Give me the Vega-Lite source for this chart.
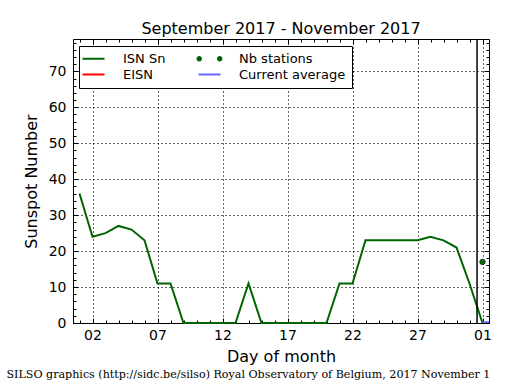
{
  "$schema": "https://vega.github.io/schema/vega-lite/v6.json",
  "width": 416,
  "height": 284,
  "autosize": {"type": "none"},
  "padding": {"left": 73, "top": 39, "right": 26, "bottom": 67},
  "background": "white",
  "view": {"stroke": "black", "strokeWidth": 1},
  "title": {"text": "September 2017 - November 2017", "font": "DejaVu Sans", "fontSize": 16, "fontWeight": "normal", "color": "black", "anchor": "middle", "offset": 1},
  "config": {
    "axis": {"labelFont": "DejaVu Sans", "titleFont": "DejaVu Sans", "labelColor": "black", "titleColor": "black", "tickColor": "black", "tickWidth": 1, "titleFontWeight": "normal", "domain": false, "gridColor": "black", "gridDash": [1, 3], "gridWidth": 1, "gridOpacity": 0.75},
    "legend": {
      "orient": "none", "legendX": 6, "legendY": 7, "columns": 2,
      "strokeColor": "black", "fillColor": "white", "padding": 6,
      "symbolType": "stroke", "symbolSize": 484, "symbolStrokeWidth": 2,
      "labelFont": "DejaVu Sans", "labelFontSize": 13, "labelColor": "black", "labelOffset": 23,
      "columnPadding": 28, "rowPadding": 2, "symbolOffset": 2, "zindex": 2
    }
  },
  "datasets": {
    "isn": [
      {"day": 1, "value": 36, "series": "ISN Sn"},
      {"day": 2, "value": 24, "series": "ISN Sn"},
      {"day": 3, "value": 25, "series": "ISN Sn"},
      {"day": 4, "value": 27, "series": "ISN Sn"},
      {"day": 5, "value": 26, "series": "ISN Sn"},
      {"day": 6, "value": 23, "series": "ISN Sn"},
      {"day": 7, "value": 11, "series": "ISN Sn"},
      {"day": 8, "value": 11, "series": "ISN Sn"},
      {"day": 9, "value": 0, "series": "ISN Sn"},
      {"day": 10, "value": 0, "series": "ISN Sn"},
      {"day": 11, "value": 0, "series": "ISN Sn"},
      {"day": 12, "value": 0, "series": "ISN Sn"},
      {"day": 13, "value": 0, "series": "ISN Sn"},
      {"day": 14, "value": 11, "series": "ISN Sn"},
      {"day": 15, "value": 0, "series": "ISN Sn"},
      {"day": 16, "value": 0, "series": "ISN Sn"},
      {"day": 17, "value": 0, "series": "ISN Sn"},
      {"day": 18, "value": 0, "series": "ISN Sn"},
      {"day": 19, "value": 0, "series": "ISN Sn"},
      {"day": 20, "value": 0, "series": "ISN Sn"},
      {"day": 21, "value": 11, "series": "ISN Sn"},
      {"day": 22, "value": 11, "series": "ISN Sn"},
      {"day": 23, "value": 23, "series": "ISN Sn"},
      {"day": 24, "value": 23, "series": "ISN Sn"},
      {"day": 25, "value": 23, "series": "ISN Sn"},
      {"day": 26, "value": 23, "series": "ISN Sn"},
      {"day": 27, "value": 23, "series": "ISN Sn"},
      {"day": 28, "value": 24, "series": "ISN Sn"},
      {"day": 29, "value": 23, "series": "ISN Sn"},
      {"day": 30, "value": 21, "series": "ISN Sn"},
      {"day": 31, "value": 11, "series": "ISN Sn"},
      {"day": 32, "value": 0, "series": "ISN Sn"}
    ],
    "stations": [{"day": 32, "value": 17}],
    "avg": [{"day": 32, "value": 0.2}, {"day": 32.5, "value": 0.2}],
    "sep": [{"day": 31.58}]
  },
  "layer": [
    {
      "data": {"name": "isn"},
      "mark": {"type": "line", "strokeWidth": 2},
      "encoding": {
        "x": {"field": "day", "type": "quantitative", "scale": {"domain": [0.5, 32.5], "nice": false, "zero": false},
          "axis": {"orient": "bottom", "values": [2, 7, 12, 17, 22, 27, 32], "format": "02d", "labelExpr": "datum.value > 31 ? '01' : datum.label",
            "title": "Day of month", "ticks": false, "grid": true,
            "labelFontSize": 14, "labelPadding": 5, "labelFlush": false, "labelOverlap": false, "titleFontSize": 16, "titlePadding": 6}},
        "y": {"field": "value", "type": "quantitative", "scale": {"domain": [0, 79], "nice": false, "zero": false},
          "axis": {"orient": "left", "values": [0, 10, 20, 30, 40, 50, 60, 70], "title": "Sunspot Number", "ticks": false, "grid": true,
            "labelFontSize": 14, "labelPadding": 7, "labelFlush": false, "labelOverlap": false, "titleFontSize": 16, "titlePadding": 9}},
        "color": {"field": "series", "type": "nominal",
          "scale": {"domain": ["ISN Sn", "EISN", "Nb stations", "Current average"], "range": ["#006400", "#ff0000", "#006400", "#6666ff"]},
          "legend": {"title": null,
            "encode": {"symbols": {"update": {
              "shape": {"signal": "datum.value === 'Nb stations' ? 'M-1.18,0a0.25,0.25 0 1,0 0.5,0a0.25,0.25 0 1,0 -0.5,0ZM0.68,0a0.25,0.25 0 1,0 0.5,0a0.25,0.25 0 1,0 -0.5,0Z' : 'stroke'"},
              "fill": {"signal": "datum.value === 'Nb stations' ? '#006400' : 'transparent'"},
              "strokeWidth": {"signal": "datum.value === 'Nb stations' ? 0 : 2"}
            }}}}}
      }
    },
    {
      "data": {"name": "stations"},
      "mark": {"type": "point", "filled": true, "size": 30, "fill": "#0a6a0a", "stroke": "#053505", "strokeWidth": 0.8, "opacity": 1},
      "encoding": {
        "x": {"field": "day", "type": "quantitative", "scale": {"domain": [0.5, 32.5], "nice": false, "zero": false},
          "axis": {"orient": "bottom", "values": [2, 7, 12, 17, 22, 27, 32], "labels": false, "ticks": true, "tickSize": 5, "offset": -5, "grid": true, "title": null}},
        "y": {"field": "value", "type": "quantitative", "scale": {"domain": [0, 79], "nice": false, "zero": false},
          "axis": {"orient": "left", "values": [0, 10, 20, 30, 40, 50, 60, 70], "labels": false, "ticks": true, "tickSize": 5, "offset": -5, "grid": true, "title": null}}
      }
    },
    {
      "data": {"name": "avg"},
      "mark": {"type": "line", "strokeWidth": 2, "color": "#6666ff", "clip": true},
      "encoding": {
        "x": {"field": "day", "type": "quantitative", "scale": {"domain": [0.5, 32.5], "nice": false, "zero": false},
          "axis": {"orient": "bottom", "values": [1,2,3,4,5,6,7,8,9,10,11,12,13,14,15,16,17,18,19,20,21,22,23,24,25,26,27,28,29,30,31,32], "labels": false, "ticks": true, "tickSize": 3, "offset": -3, "grid": false, "title": null}},
        "y": {"field": "value", "type": "quantitative", "scale": {"domain": [0, 79], "nice": false, "zero": false},
          "axis": {"orient": "left", "values": [0,2,4,6,8,10,12,14,16,18,20,22,24,26,28,30,32,34,36,38,40,42,44,46,48,50,52,54,56,58,60,62,64,66,68,70,72,74,76,78], "labels": false, "ticks": true, "tickSize": 3, "offset": -3, "grid": false, "title": null}}
      }
    },
    {
      "data": {"name": "stations"},
      "mark": {"type": "point", "opacity": 0},
      "encoding": {
        "x": {"field": "day", "type": "quantitative", "scale": {"domain": [0.5, 32.5], "nice": false, "zero": false},
          "axis": {"orient": "top", "values": [2, 7, 12, 17, 22, 27, 32], "labels": false, "ticks": true, "tickSize": 5, "offset": -5, "grid": false, "title": null}},
        "y": {"field": "value", "type": "quantitative", "scale": {"domain": [0, 79], "nice": false, "zero": false},
          "axis": {"orient": "right", "values": [0, 10, 20, 30, 40, 50, 60, 70], "labels": false, "ticks": true, "tickSize": 5, "offset": -5, "grid": false, "title": null}}
      }
    },
    {
      "data": {"name": "stations"},
      "mark": {"type": "point", "opacity": 0},
      "encoding": {
        "x": {"field": "day", "type": "quantitative", "scale": {"domain": [0.5, 32.5], "nice": false, "zero": false},
          "axis": {"orient": "top", "values": [1,2,3,4,5,6,7,8,9,10,11,12,13,14,15,16,17,18,19,20,21,22,23,24,25,26,27,28,29,30,31,32], "labels": false, "ticks": true, "tickSize": 3, "offset": -3, "grid": false, "title": null}},
        "y": {"field": "value", "type": "quantitative", "scale": {"domain": [0, 79], "nice": false, "zero": false},
          "axis": {"orient": "right", "values": [0,2,4,6,8,10,12,14,16,18,20,22,24,26,28,30,32,34,36,38,40,42,44,46,48,50,52,54,56,58,60,62,64,66,68,70,72,74,76,78], "labels": false, "ticks": true, "tickSize": 3, "offset": -3, "grid": false, "title": null}}
      }
    },
    {
      "data": {"name": "sep"},
      "mark": {"type": "rule", "color": "black", "strokeWidth": 1.5},
      "encoding": {
        "x": {"field": "day", "type": "quantitative", "scale": {"domain": [0.5, 32.5], "nice": false, "zero": false},
          "axis": {"orient": "bottom", "labels": false, "ticks": false, "grid": false,
            "title": "SILSO graphics (http://sidc.be/silso) Royal Observatory of Belgium, 2017 November 1",
            "titleFont": "DejaVu Serif", "titleFontSize": 11.1, "titleAnchor": "start", "titleAlign": "left", "titleBaseline": "alphabetic", "titleX": -67, "titleY": 54}}
      }
    }
  ],
  "resolve": {"axis": {"x": "independent", "y": "independent"}}
}
